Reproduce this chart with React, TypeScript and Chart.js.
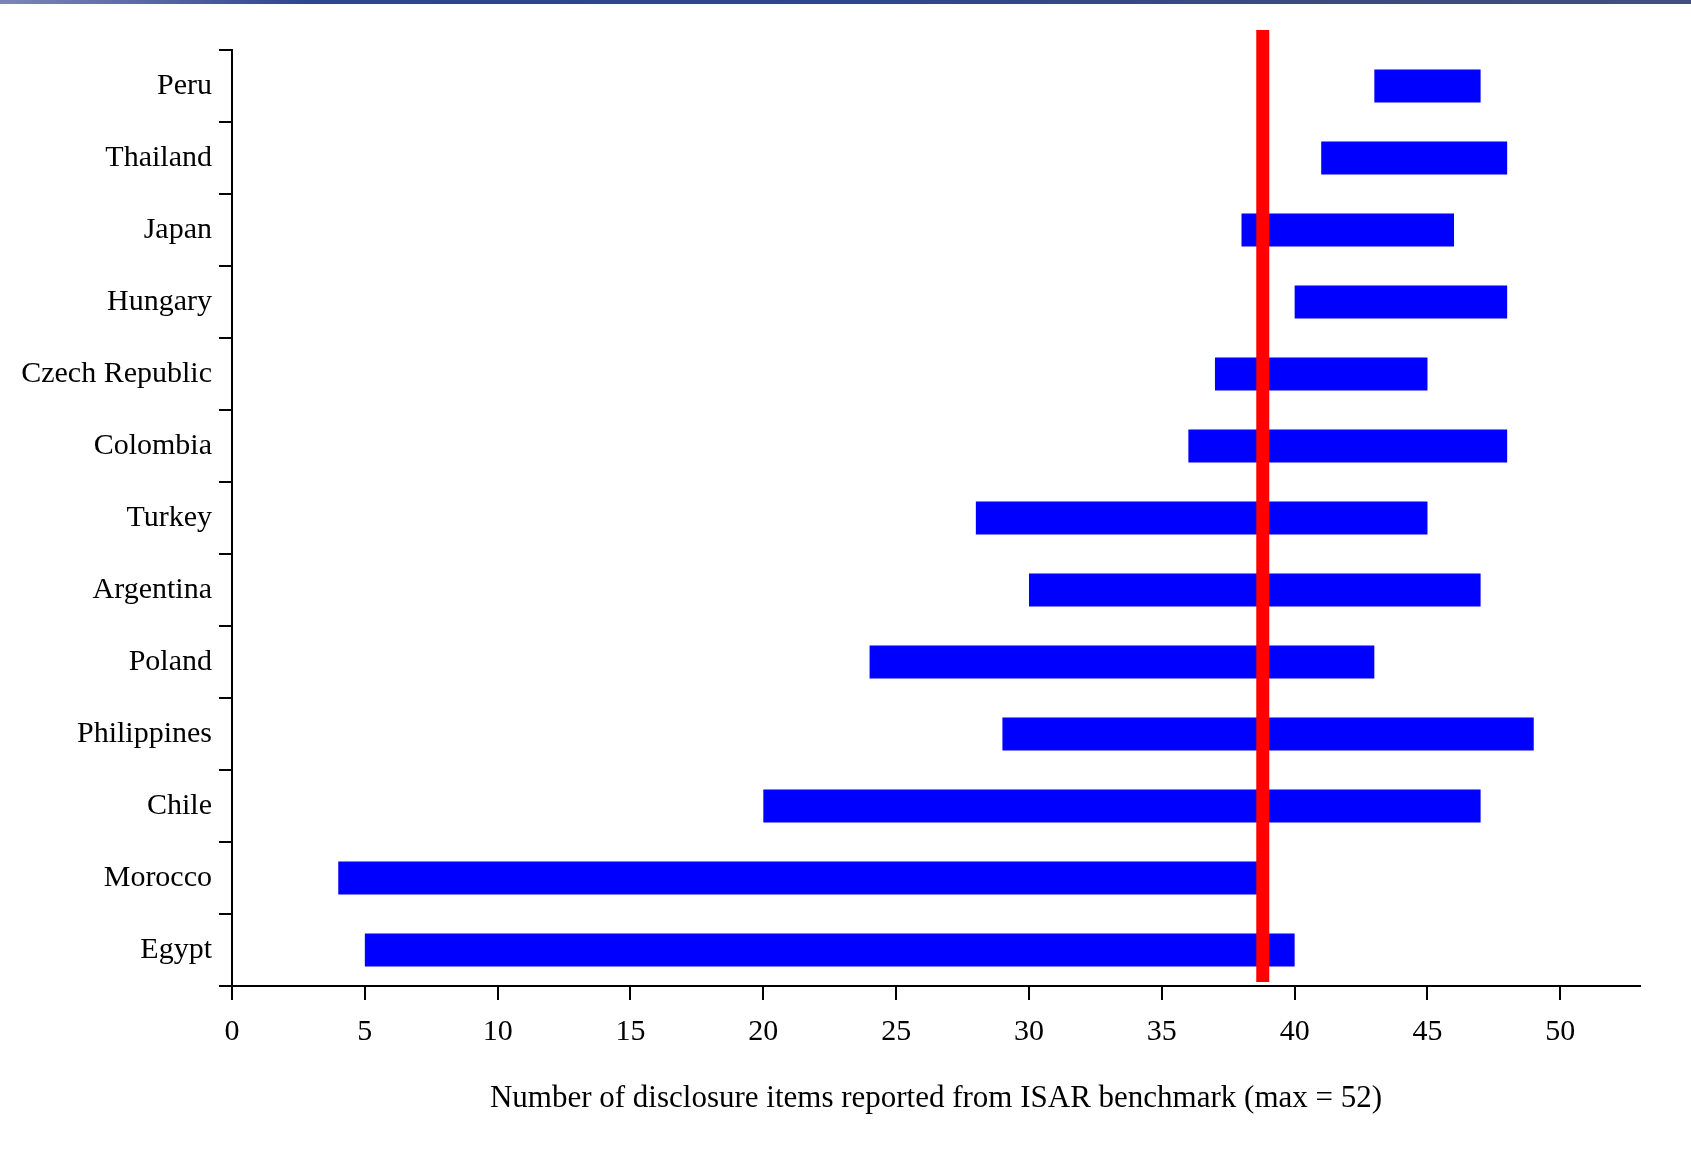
import React, { useEffect, useRef } from "react";
import { Chart, registerables } from "chart.js";

Chart.register(...registerables);

const countries = [
  "Peru",
  "Thailand",
  "Japan",
  "Hungary",
  "Czech Republic",
  "Colombia",
  "Turkey",
  "Argentina",
  "Poland",
  "Philippines",
  "Chile",
  "Morocco",
  "Egypt",
];
const lowValues = [43, 41, 38, 40, 37, 36, 28, 30, 24, 29, 20, 4, 5];
const highValues = [47, 48, 46, 48, 45, 48, 45, 47, 43, 49, 47, 39, 40];
const benchmarkValue = 38.8;
const xTickValues = [0, 5, 10, 15, 20, 25, 30, 35, 40, 45, 50];
const xMin = 0;
const xMax = 53;
const xTitle = "Number of disclosure items reported from ISAR benchmark (max = 52)";

const FONT = "'Liberation Serif', 'Times New Roman', serif";

const benchmarkLine = {
  id: "benchmarkLine",
  afterDatasetsDraw(chart: any) {
    const { ctx, chartArea, scales } = chart;
    const x = scales.x.getPixelForValue(benchmarkValue);
    const top = chartArea.top - 20;
    const bottom = chartArea.bottom - 4;
    ctx.save();
    ctx.fillStyle = "#FF0000";
    ctx.fillRect(x - 6.5, top, 13, bottom - top);
    ctx.restore();
  },
};

export default function App() {
  const canvasRef = useRef<HTMLCanvasElement | null>(null);

  useEffect(() => {
    const canvas = canvasRef.current;
    if (!canvas) return;
    const data = countries.map((_, i) => [lowValues[i], highValues[i]]);
    const chart = new Chart(canvas, {
      type: "bar",
      data: {
        labels: countries,
        datasets: [
          {
            data: data as any,
            backgroundColor: "#0000FF",
            borderWidth: 0,
            barPercentage: 0.46,
            categoryPercentage: 1,
          },
        ],
      },
      options: {
        indexAxis: "y",
        responsive: false,
        animation: false,
        devicePixelRatio: 1,
        layout: { padding: { left: 0, top: 50, right: 51, bottom: 0 } },
        plugins: {
          legend: { display: false },
          tooltip: { enabled: false },
        },
        scales: {
          y: {
            type: "category",
            offset: true,
            grid: {
              display: true,
              offset: true,
              drawOnChartArea: false,
              drawTicks: true,
              tickLength: 13,
              color: "#000",
              lineWidth: 2,
            },
            border: { display: true, color: "#000", width: 2 },
            ticks: {
              color: "#000",
              padding: 7,
              font: { family: FONT, size: 30 },
            },
            afterFit: (scale: any) => {
              scale.width = 232;
            },
          },
          x: {
            type: "linear",
            min: xMin,
            max: xMax,
            grid: {
              display: true,
              drawOnChartArea: false,
              drawTicks: true,
              tickLength: 14,
              color: "#000",
              lineWidth: 2,
            },
            border: { display: true, color: "#000", width: 2 },
            ticks: {
              stepSize: 5,
              includeBounds: false,
              color: "#000",
              padding: 14,
              maxRotation: 0,
              font: { family: FONT, size: 30 },
            } as any,
            afterBuildTicks: (scale: any) => {
              scale.ticks = xTickValues.map((v) => ({ value: v }));
            },
            title: {
              display: true,
              text: xTitle,
              color: "#000",
              font: { family: FONT, size: 31 },
              padding: { top: 0, bottom: 37 },
            },
            afterFit: (scale: any) => {
              scale.height = 168;
            },
          },
        },
      },
      plugins: [benchmarkLine],
    });
    return () => chart.destroy();
  }, []);

  return (
    <div>
      <div
        style={{
          position: "fixed",
          left: 0,
          top: 0,
          width: 1691,
          height: 1154,
          background: "#fff",
        }}
      >
        <canvas ref={canvasRef} width={1691} height={1154} style={{ display: "block" }} />
      </div>
      <div
        style={{
          position: "fixed",
          left: 0,
          top: 0,
          width: 1691,
          height: 4,
          background:
            "linear-gradient(to right, #7b85ba 0%, #5c6aa8 8%, #2e4590 18%, #2b4590 45%, #3a4a82 75%, #3f4f80 100%)",
        }}
      />
    </div>
  );
}
